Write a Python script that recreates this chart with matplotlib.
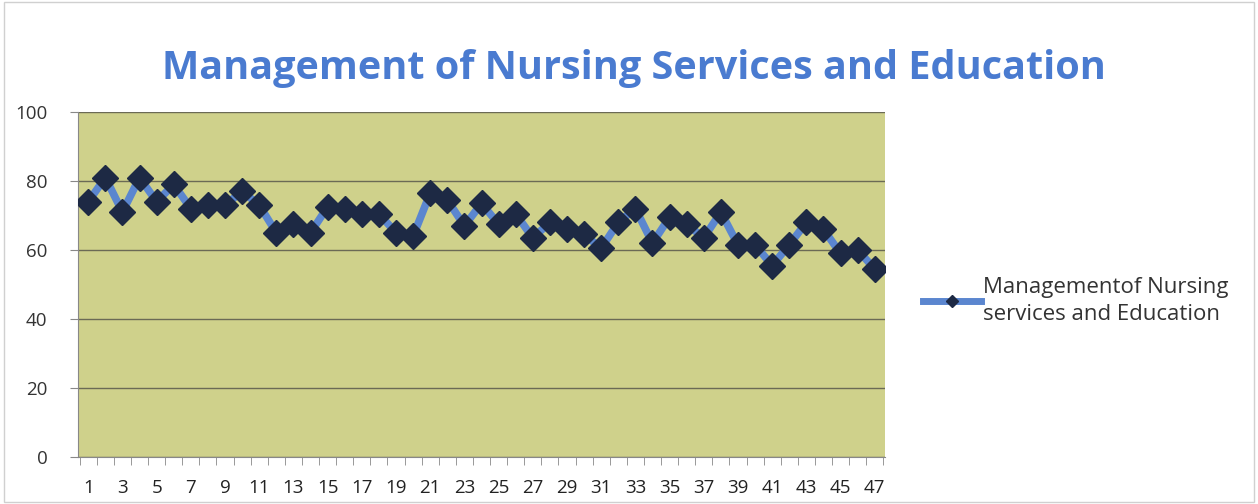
import matplotlib
matplotlib.use("Agg")
import matplotlib.pyplot as plt
from matplotlib.lines import Line2D
from matplotlib.ticker import FixedLocator

# valori (47 rilevazioni)
rilevazioni = list(range(1, 48))
punteggi = [74, 81, 71, 81, 74, 79, 72, 73, 73, 77,
            73, 65, 67.5, 65, 72.5, 72, 70.5, 70.5, 65, 64,
            76.5, 74.5, 67, 73.5, 67.5, 70.5, 63.5, 68, 66, 64.5,
            60.5, 68, 72, 62, 69.5, 67.5, 63.5, 71, 61.5, 61.5,
            55.5, 61.5, 68, 66, 59, 60, 54.5]
etichette_y = [0, 20, 40, 60, 80, 100]

TITOLO = "Management of Nursing Services and Education"
LEGENDA = "Managementof Nursing\nservices and Education"

plt.rcParams["font.family"] = ["Open Sans", "DejaVu Sans"]

fig = plt.figure(figsize=(12.58, 5.04), dpi=100)
fig.patch.set_facecolor("white")
ax = fig.add_axes([78 / 1258, 1 - 457 / 504, (885 - 78) / 1258, (457 - 112) / 504])
ax.set_facecolor("#cfd18b")

ax.plot(rilevazioni, punteggi, color="#5b86cf", lw=5.5, marker="D", ms=13,
        markerfacecolor="#1d2944", markeredgecolor="#1d2944", zorder=3)

ax.set_xlim(0.4, 47.6)
ax.set_ylim(0, 100)
ax.set_yticks(etichette_y)
ax.set_xticks(rilevazioni[::2])
ax.xaxis.set_minor_locator(FixedLocator([i + 0.5 for i in range(0, 48)]))
ax.tick_params(axis="x", which="major", length=0, pad=16, labelsize=13.5,
               labelcolor="#222222")
ax.tick_params(axis="x", which="minor", length=6, color="#888888", direction="out")
ax.tick_params(axis="y", length=6, color="#888888", labelsize=13.5,
               labelcolor="#333333", pad=16)
ax.grid(axis="y", color="#6b6a55", lw=1.0, zorder=1)
ax.set_axisbelow(True)
for lato in ["top", "right"]:
    ax.spines[lato].set_visible(False)
ax.spines["left"].set_color("#888888")
ax.spines["bottom"].set_color("#888888")

fig.text(634 / 1258, 1 - 68 / 504, TITOLO, ha="center", va="center",
         fontsize=28.5, fontweight="bold", color="#4a7bd0")

# legenda con marcatore piu' piccolo, come nell'originale
maniglia = Line2D([], [], color="#5b86cf", lw=5, marker="D", ms=6,
                  markerfacecolor="#1d2944", markeredgecolor="#1d2944")
fig.legend([maniglia], [LEGENDA], loc="center left",
           bbox_to_anchor=(903 / 1258, 1 - 301 / 504),
           frameon=False, handlelength=2.6, handletextpad=0.1,
           labelcolor="#333333", prop={"size": 16})
for t in fig.legends[0].get_texts():
    t.set_linespacing(1.4)

# cornice esterna del grafico
fig.add_artist(plt.Rectangle((0.003, 0.003), 0.994, 0.994, transform=fig.transFigure,
                             fill=False, edgecolor="#d0d0d0", lw=1))

fig.savefig("out.png", dpi=100)
